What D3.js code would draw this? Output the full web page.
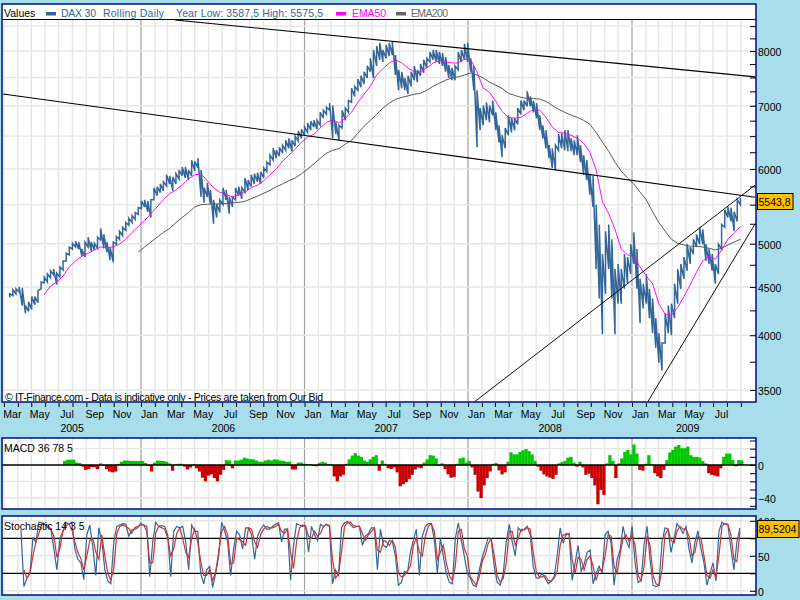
<!DOCTYPE html>
<html><head><meta charset="utf-8">
<script src="https://cdnjs.cloudflare.com/ajax/libs/d3/7.8.5/d3.min.js"></script>
<style>
html,body{margin:0;padding:0;background:#A8DDEB;overflow:hidden}
svg{display:block}
text{font-family:"Liberation Sans",Arial,sans-serif;font-size:10.5px;fill:#000}
.axis path{display:none}
</style></head><body>
<svg id="c" width="800" height="600"></svg>
<script>
// ---- Data ----
const monthNames = ["Jan","Feb","Mar","Apr","May","Jun","Jul","Aug","Sep","Oct","Nov","Dec"];
const yearLabels = [["2005","2005-07-30"],["2006","2006-07-03"],["2007","2007-07-01"],["2008","2008-07-01"],["2009","2009-05-04"]];
const priceStart = "2005-03-14"; // weekly samples
const priceHigh = [4425,4470,4480,4500,4490,4300,4340,4395,4395,4460,4555,4610,4645,4680,4700,4655,4725,4795,4885,4960,5005,5030,5020,4935,5020,5080,5020,5005,5080,5190,5115,5020,4960,5020,5090,5155,5205,5265,5320,5355,5395,5460,5550,5565,5550,5565,5730,5745,5785,5815,5915,5900,5885,5930,5985,6030,6030,5985,6130,6115,6160,5985,5730,5800,5700,5565,5510,5565,5730,5700,5605,5605,5730,5745,5730,5870,5840,5915,5930,5945,5960,6015,6100,6205,6310,6280,6325,6360,6435,6465,6435,6500,6580,6610,6645,6710,6740,6755,6755,6890,6925,6975,7045,7005,6720,6675,6925,6960,7090,7305,7340,7470,7530,7605,7715,7860,8020,8100,8160,8020,8120,8160,8180,7920,7640,7605,7490,7530,7605,7715,7640,7750,7830,7860,7980,8020,8020,7980,7960,7885,7730,7675,7715,7980,8020,8140,8160,7860,7715,7270,6960,7005,7060,7005,7090,6890,6675,6515,6630,6840,6790,6790,6960,7090,7090,7250,7160,7090,7045,6840,6675,6595,6360,6310,6360,6530,6545,6595,6595,6465,6435,6515,6360,6205,6130,5915,5900,5500,5240,4875,5155,5240,5055,4700,4760,4700,4875,4840,4995,5140,4935,4590,4535,4645,4480,4375,4170,4020,3925,4220,4300,4320,4535,4700,4760,4840,4995,4960,5055,5115,5205,5180,4995,4935,4875,4760,4995,5240,5430,5470,5460,5405,5565,5590];
const priceLow = [4385,4405,4425,4445,4300,4220,4240,4260,4310,4330,4480,4545,4555,4600,4635,4525,4610,4690,4795,4865,4935,4960,4935,4850,4840,4960,4910,4925,4945,5045,4945,4900,4805,4780,4995,5055,5100,5165,5230,5265,5305,5370,5445,5470,5405,5330,5565,5620,5665,5690,5755,5785,5690,5785,5855,5900,5870,5840,5900,5970,6015,5605,5525,5605,5510,5250,5330,5395,5500,5565,5380,5470,5565,5620,5580,5670,5700,5745,5785,5815,5785,5870,5960,6060,6130,6160,6190,6235,6280,6310,6265,6345,6420,6465,6515,6560,6595,6645,6610,6675,6790,6855,6925,6465,6530,6435,6630,6755,6890,7060,7160,7270,7325,7380,7490,7605,7490,7715,7830,7790,7860,7900,7920,7545,7270,7305,7270,7200,7340,7450,7415,7530,7585,7675,7790,7830,7790,7750,7715,7605,7490,7450,7450,7640,7790,7830,7790,7605,7270,6325,6595,6675,6755,6720,6840,6595,6400,6175,6310,6515,6560,6595,6690,6855,6925,6990,6990,6890,6790,6595,6465,6310,6160,6015,5985,6280,6310,6280,6265,6265,6205,6205,6100,5915,5840,5635,5470,4700,4375,4010,4425,4700,4375,4010,4320,4320,4480,4535,4645,4760,4480,4120,4270,4320,4170,4020,3880,3740,3670,3925,4020,4000,4170,4320,4480,4590,4680,4760,4875,4960,4995,4995,4795,4760,4680,4535,4645,4935,5205,5330,5280,5155,5280,5500];
const ema50Start = "2005-05-30"; // two-weekly samples
const ema50 = [4415,4510,4555,4620,4725,4795,4850,4885,4925,4960,4955,4960,4995,5055,5140,5215,5290,5380,5470,5565,5650,5700,5770,5855,5915,5930,5830,5730,5670,5635,5605,5635,5670,5730,5770,5830,5915,6000,6115,6205,6295,6405,6485,6530,6630,6720,6770,6710,6790,6890,7060,7200,7340,7545,7660,7770,7830,7770,7675,7605,7605,7675,7770,7810,7790,7770,7770,7845,7830,7605,7305,7235,7075,6905,6805,6790,6805,6875,6940,6925,6805,6645,6560,6545,6515,6465,6390,6250,5985,5540,5380,5180,4935,4865,4850,4725,4620,4535,4320,4210,4200,4280,4395,4525,4665,4795,4850,4815,4925,5055,5130,5215];
const ema200Start = "2005-12-26"; // two-weekly samples
const ema200 = [4900,4960,5020,5080,5140,5190,5265,5330,5395,5470,5500,5505,5510,5510,5515,5525,5530,5545,5580,5615,5655,5695,5745,5785,5830,5870,5930,6000,6075,6160,6235,6280,6305,6375,6435,6545,6660,6755,6855,6960,7045,7110,7145,7170,7200,7215,7270,7340,7395,7450,7490,7510,7545,7585,7545,7490,7415,7360,7305,7215,7180,7145,7125,7125,7115,7075,7005,6940,6890,6840,6805,6755,6690,6560,6405,6265,6100,5970,5870,5785,5670,5565,5405,5265,5155,5055,5005,4985,4970,4970,4960,4945,4925,4945,4985,5020,5055];
const trendLines = [
  [["2006-03-18",8628],["2009-10-03",7510]],
  [["2005-02-27",7203],["2009-10-03",5600]],
  [["2008-01-15",3399],["2009-10-03",5770]],
  [["2009-02-05",3400],["2009-10-03",5250]]
];
const priceTicksMajor = [8000,7000,6000,5000,4500,4000,3500];
const priceTicksGrid = [8500,8000,7500,7000,6500,6000,5500,5000,4500,4000,3500];
const priceTicksMinor = [8500,8250,8000,7750,7500,7250,7000,6750,6500,6250,6000,5750,5500,5250,5000,4750,4500,4250,4000,3750,3500];
const lastPrice = "5543,8";
const lastStoch = "89,5204";
const legendItems = ["DAX 30","Rolling Daily","Year Low: 3587,5 High: 5575,5","EMA50","EMA200"];

const oscStepDays = 6.687;
const macdStart = "2005-07-11";
const macd = [5,6.5,6.5,6.5,3,2.5,-2,-6,-5,-2.5,-3,-5,2,-1,-5,-8,-9,-8,1.5,4,5.5,5.5,5,5,5,5,5,2.5,-1,-8,3,5.5,5,5,4,2,-7,1,1.5,1.5,-2,-5.5,-3,1,-4,-8,-15.5,-20,-13,-11.5,-16,-20,-12,-6,6,5.5,-4,5.5,5.5,6.5,9,8,7,7,5.5,4,4,5.5,6.5,5.5,7,6.5,5.5,5,4,4,-5.5,-5.5,3,3,1.5,1,1,-1,-1.5,2.5,4,3,1,1,-14,-20,-14,-12,1.5,7,11.5,14.5,11.5,10,5.5,4,7,10,12,-7,5.5,1.5,-4,-5,-3,-9,-26,
-23.5,-21,-17,-12,-5.5,-3,-4,3,7,12,11.5,8,-1,2,-5,-11.5,-15.5,-14.5,1.5,8,9,3,5,-3,-12,-32.5,-40.5,-25,-16,-8,1.5,2.5,-6.5,-11.5,-9,4,15.5,13,13,16,18,19.5,17,13,5,-2,-7,-11.5,-14,-15.5,-17,-12,2,3.5,5,9,10,3,-2,4,-3,-12,-10.5,-16,-25,-48,-30.5,-36.5,2,12,5,-16,2,8,16,18.5,13,25,14,-6,-7,1.5,12,1,-10,-14,-16,-6,6,15.5,18.5,22.5,24.5,20.5,20.5,22.5,12,10,10,9,5,2,-10,-12,-13,-14,-4,10,14,14,6,-1.5,6,5.5];
const stochStart = "2005-04-08";
const stochK = [87,6,18,25,75,70,98,97,95,90,88,60,30,75,85,98,95,98,60,45,40,16,80,94,62,22,90,72,30,14,10,70,92,94,96,95,78,87,88,90,96,94,92,20,70,98,92,93,92,80,20,85,92,90,92,70,30,94,85,85,25,10,30,35,5,25,50,98,85,70,22,60,85,80,60,90,90,80,
45,78,88,94,88,88,92,95,97,70,88,88,15,65,96,94,92,93,55,92,80,72,95,92,95,92,10,30,22,90,97,99,95,90,92,92,65,78,82,90,90,30,88,65,62,72,70,50,8,
12,28,25,55,72,88,22,78,92,96,96,72,25,75,50,25,12,10,75,97,72,50,25,18,8,6,30,48,62,76,72,35,12,8,25,70,95,70,50,90,85,88,92,80,35,18,18,25,18,10,14,20,50,90,68,82,80,15,40,65,28,38,55,58,10,25,35,25,80,85,68,8,45,58,92,72,62,92,40,12,15,65,92,45,8,6,8,70,90,88,55,75,96,90,82,92,60,40,70,86,60,40,8,25,40,14,85,98,95,94,60,30,70,90];
const stochD = [null,30,18,25,50,70,82,96,95,94,88,78,48,60,85,92,96,88,70,55,46,30,50,72,75,55,45,80,50,25,15,32,82,92,94,92,89,82,90,92,94,94,85,40,40,83,92,90,88,75,50,60,82,90,75,55,48,75,88,70,42,22,22,30,15,27,55,85,92,80,38,40,75,73,70,65,90,88,
70,62,80,88,92,90,90,92,95,85,82,88,55,32,70,90,94,92,78,75,85,78,82,92,95,93,45,18,24,55,92,97,98,93,92,92,82,72,80,85,90,58,55,72,70,65,72,62,25,
20,22,28,35,65,75,55,50,78,92,96,85,45,55,65,40,22,15,35,85,88,60,50,20,14,8,20,42,52,68,74,50,22,12,18,40,85,85,65,75,88,87,90,88,55,28,20,20,22,15,14,18,28,65,80,80,82,45,25,48,45,30,45,50,35,15,30,30,50,80,78,35,25,52,75,80,70,80,65,22,14,35,78,65,22,10,8,30,80,88,72,68,85,92,88,88,78,50,55,78,75,50,22,18,30,20,50,92,96,95,80,45,42,85];

// ---- Geometry ----
const L=2, R=756;
const x = d3.scaleTime().domain([new Date(2006,0,1),new Date(2009,0,1)]).range([141,632]);
const y = d3.scaleLog().domain([3500,8000]).range([390,51]);
const yM = d3.scaleLinear().domain([-40,0]).range([497.7,465]);
const yS = d3.scaleLinear().domain([0,100]).range([590.8,520.8]);
const P = [{t:4,b:402},{t:438,b:509},{t:516,b:595}];
const pd = s => { const [a,b,c]=s.split("-").map(Number); return new Date(a,b-1,c); };
const months = d3.timeMonth.range(new Date(2005,2,1), new Date(2009,8,2));
const svg = d3.select("#c");
const defs = svg.append("defs");
P.forEach((p,i)=>defs.append("clipPath").attr("id","clip"+i).append("rect").attr("x",L).attr("y",i==0?20:p.t).attr("width",R-L).attr("height",p.b-(i==0?20:p.t)));

// panels and vertical grid
P.forEach((p,i)=>{
  svg.append("rect").attr("x",L).attr("y",p.t).attr("width",R-L).attr("height",p.b-p.t).attr("fill","#fff");
  const g = svg.append("g").attr("clip-path",`url(#clip${i})`);
  g.selectAll("line.v").data(months.filter(d=>d.getMonth()!=0)).join("line")
    .attr("x1",d=>x(d)).attr("x2",d=>x(d)).attr("y1",p.t).attr("y2",p.b).attr("stroke","#e6e6e6").attr("stroke-width",1.4);
  g.selectAll("line.y").data(months.filter(d=>d.getMonth()==0)).join("line")
    .attr("x1",d=>x(d)).attr("x2",d=>x(d)).attr("y1",p.t).attr("y2",p.b).attr("stroke","#a0a0a0").attr("stroke-width",1.2);
});
const hgrid=(vals,sc,i,col="#e6e6e6",w=1.4)=>svg.append("g").attr("clip-path",`url(#clip${i})`).selectAll("line").data(vals).join("line")
  .attr("x1",L).attr("x2",R).attr("y1",d=>sc(d)).attr("y2",d=>sc(d)).attr("stroke",col).attr("stroke-width",w);
hgrid(priceTicksGrid,y,0);
hgrid([20,-20,-40],yM,1);
hgrid([100,50,0],yS,2);

// main panel marks
const main = svg.append("g").attr("clip-path","url(#clip0)");
const t0 = pd(priceStart);
const zig = [];
priceHigh.forEach((h,i)=>{ const d=d3.timeDay.offset(t0,7*i); zig.push([d,priceLow[i]],[d,h]); });
const ln = d3.line().x(d=>x(d[0])).y(d=>y(d[1]));
main.append("path").attr("d",ln(zig)).attr("fill","none").attr("stroke","#336699").attr("stroke-width",1.5);
const series=(arr,start,step)=>arr.map((v,i)=>[d3.timeDay.offset(pd(start),step*i),v]);
main.append("path").attr("d",ln(series(ema200,ema200Start,14))).attr("fill","none").attr("stroke","#5a5a5a").attr("stroke-width",1);
main.append("path").attr("d",ln(series(ema50,ema50Start,14))).attr("fill","none").attr("stroke","#ff00ff").attr("stroke-width",0.95);
main.selectAll("path.tl").data(trendLines).join("path").attr("class","tl")
  .attr("d",d=>ln(d.map(q=>[pd(q[0]),q[1]]))).attr("fill","none").attr("stroke","#000").attr("stroke-width",(d,i)=>i<2?1.1:0.95);

// header
svg.append("rect").attr("x",L).attr("y",4).attr("width",R-L).attr("height",15).attr("fill","#fff");
svg.append("line").attr("x1",L).attr("x2",R).attr("y1",19.5).attr("y2",19.5).attr("stroke","#000").attr("stroke-width",1.2);
svg.append("text").attr("x",4).attr("y",17).text("Values");
const legX=[61,103,176,352,411], legW=[35,61,147,34,37], legC=["#336699","#336699","#336699","#ff00ff","#666"];
legendItems.forEach((t,i)=>svg.append("text").attr("x",legX[i]).attr("y",17).attr("textLength",legW[i]).style("fill",legC[i]).text(t));
[[46,"#336699"],[336,"#ff00ff"],[396,"#666"]].forEach(d=>svg.append("rect").attr("x",d[0]).attr("y",12).attr("width",10).attr("height",3.5).attr("fill",d[1]));
svg.append("text").attr("x",5).attr("y",400.5).attr("textLength",318).text("© IT-Finance.com - Data is indicative only - Prices are taken from Our Bid");

// MACD
const mStart=pd(macdStart), mDate=i=>new Date(+mStart+i*oscStepDays*864e5);
const mG=svg.append("g").attr("clip-path","url(#clip1)");
mG.selectAll("rect").data(macd).join("rect")
  .attr("x",(d,i)=>x(mDate(i))).attr("width",(d,i)=>x(mDate(i+1))-x(mDate(i))+0.3)
  .attr("y",d=>Math.min(yM(d),yM(0))).attr("height",d=>Math.abs(yM(d)-yM(0)))
  .attr("fill",d=>d>=0?"#00c800":"#c80000");
hgrid([0],yM,1,"#000",1.3);
svg.append("text").attr("x",4).attr("y",452).text("MACD 36 78 5");

// Stochastic
hgrid([75,25],yS,2,"#000",1.3);
const sStart=pd(stochStart), sDate=i=>new Date(+sStart+i*oscStepDays*864e5);
const sLine=d3.line().defined(d=>d!=null).x((d,i)=>x(sDate(i))).y(d=>yS(d));
const sG=svg.append("g").attr("clip-path","url(#clip2)");
sG.append("path").attr("d",sLine(stochK)).attr("fill","none").attr("stroke","#336699").attr("stroke-width",1.2);
sG.append("path").attr("d",sLine(stochD)).attr("fill","none").attr("stroke","#cc3333").attr("stroke-width",1.2);
svg.append("text").attr("x",4).attr("y",530).text("Stochastic 14 3 5");

// frames
P.forEach(p=>svg.append("rect").attr("x",L).attr("y",p.t).attr("width",R-L).attr("height",p.b-p.t).attr("fill","none").attr("stroke","#0a1f80").attr("stroke-width",1.6));

// axes
const axM=d3.axisBottom(x).tickValues(months).tickSize(4).tickPadding(4)
  .tickFormat(d=>(d.getMonth()%2==0&&!(d.getFullYear()==2009&&d.getMonth()==8))?monthNames[d.getMonth()]:"");
const ga=svg.append("g").attr("class","axis").attr("transform",`translate(0,403)`).call(axM);
ga.selectAll("text").attr("dx",8);
ga.selectAll("line").attr("stroke","#000");
const axY=d3.axisBottom(x).tickValues(yearLabels.map(d=>pd(d[1]))).tickSize(0).tickPadding(0).tickFormat((d,i)=>yearLabels[i][0]);
svg.append("g").attr("class","axis").attr("transform","translate(0,425)").call(axY);

const yAxisFmt=d3.format("d");
const right=(sc,vals,yy=0)=>{svg.append("g").attr("class","axis").attr("transform",`translate(757,${yy})`).call(d3.axisRight(sc).tickValues(vals).tickSize(0).tickPadding(1).tickFormat(yAxisFmt));};
right(y,priceTicksMajor,1); right(yM,[0,-40],1); right(yS,[100,50,0],1);
const minor=(sc,vals)=>{const g=svg.append("g").attr("class","axis").attr("transform",`translate(${R},0)`).call(d3.axisLeft(sc).tickValues(vals).tickSize(6).tickFormat(""));g.selectAll("line").attr("stroke","#000");};
minor(y,priceTicksMinor); minor(yM,[30,20,10,0,-10,-20,-30,-40,-50]); minor(yS,[100,75,50,25,0]);

// value tags
const tag=(w,h,ty,txt)=>{svg.append("rect").attr("x",757.5).attr("y",ty).attr("width",w).attr("height",h).attr("fill","#ffc000").attr("stroke","#000");
 svg.append("text").attr("x",758.5).attr("y",ty+h/2+4).text(txt);};
tag(35.5,16,193.5,lastPrice);
tag(41.5,17,520.5,lastStoch);
</script></body></html>
